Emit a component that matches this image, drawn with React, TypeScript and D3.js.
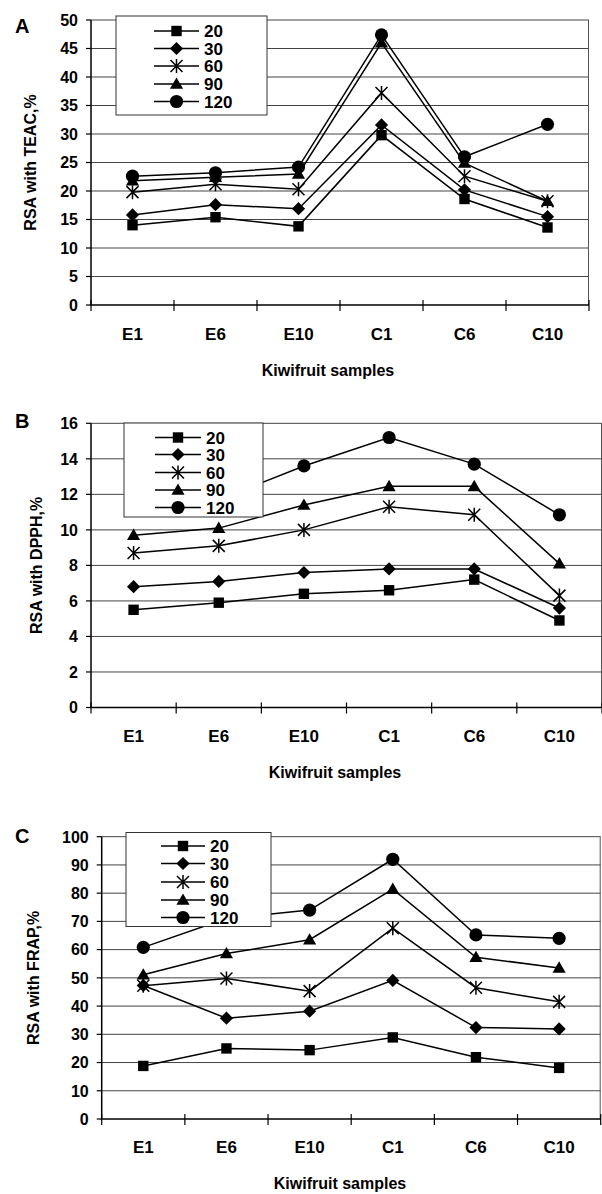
import React from "react";
import * as d3 from "d3";

const categories = ["E1", "E6", "E10", "C1", "C6", "C10"];
const seriesNames = ["20", "30", "60", "90", "120"];

// Panel A: RSA with TEAC
const teac20 = [14.0, 15.4, 13.8, 29.8, 18.6, 13.6];
const teac30 = [15.8, 17.6, 16.9, 31.6, 20.2, 15.5];
const teac60 = [19.8, 21.2, 20.3, 37.2, 22.6, 18.2];
const teac90 = [21.8, 22.4, 23.0, 46.0, 24.9, 18.2];
const teac120 = [22.6, 23.2, 24.2, 47.4, 26.0, 31.7];
const teacTicks = [0, 5, 10, 15, 20, 25, 30, 35, 40, 45, 50];

// Panel B: RSA with DPPH
const dpph20 = [5.5, 5.9, 6.4, 6.6, 7.2, 4.9];
const dpph30 = [6.8, 7.1, 7.6, 7.8, 7.8, 5.6];
const dpph60 = [8.7, 9.1, 10.0, 11.3, 10.85, 6.3];
const dpph90 = [9.7, 10.1, 11.4, 12.45, 12.45, 8.1];
const dpph120 = [11.2, 11.7, 13.6, 15.2, 13.7, 10.85];
const dpphTicks = [0, 2, 4, 6, 8, 10, 12, 14, 16];

// Panel C: RSA with FRAP
const frap20 = [18.8, 25.0, 24.4, 28.9, 21.9, 18.1];
const frap30 = [47.3, 35.7, 38.2, 49.1, 32.4, 31.9];
const frap60 = [47.2, 49.8, 45.3, 67.6, 46.5, 41.5];
const frap90 = [51.1, 58.6, 63.5, 81.4, 57.3, 53.5];
const frap120 = [60.8, 71.0, 74.0, 92.0, 65.2, 64.0];
const frapTicks = [0, 10, 20, 30, 40, 50, 60, 70, 80, 90, 100];

const FONT = "'Liberation Sans', Arial, Helvetica, sans-serif";
const markerTypes = ["square", "diamond", "star", "triangle", "circle"];

function Marker({ type, x, y }: { type: string; x: number; y: number }) {
  if (type === "square") {
    return <rect x={x - 5.2} y={y - 5.2} width={10.4} height={10.4} fill="#000" />;
  }
  if (type === "diamond") {
    const r = 6.6;
    return <path d={`M${x},${y - r}L${x + r},${y}L${x},${y + r}L${x - r},${y}Z`} fill="#000" />;
  }
  if (type === "star") {
    const r = 6;
    return (
      <path
        d={`M${x - r},${y - r}L${x + r},${y + r}M${x - r},${y + r}L${x + r},${y - r}M${x},${y - r - 1}L${x},${y + r + 1}`}
        stroke="#000"
        strokeWidth={1.5}
        fill="none"
      />
    );
  }
  if (type === "triangle") {
    const p = d3.symbol().type(d3.symbolTriangle).size(75)();
    return <path d={p || ""} transform={`translate(${x},${y + 1})`} fill="#000" />;
  }
  return <circle cx={x} cy={y} r={6.6} fill="#000" />;
}

type PanelCfg = {
  letter: string;
  letterY: number;
  title: string;
  series: number[][];
  ticks: number[];
  left: number;
  right: number;
  top: number;
  bottom: number;
  titleX: number;
  xLabelY: number;
  xTitleY: number;
  xTitleX: number;
  legend: { x0: number; x1: number; y0: number; y1: number; lx0: number; lx1: number; tx: number; rows: number[] };
};

function Panel({ cfg }: { cfg: PanelCfg }) {
  const max = cfg.ticks[cfg.ticks.length - 1];
  const y = d3.scaleLinear().domain([0, max]).range([cfg.bottom, cfg.top]);
  const x = d3.scaleBand<string>().domain(categories).range([cfg.left, cfg.right]).padding(0);
  const cx = (c: string) => (x(c) as number) + x.bandwidth() / 2;
  const line = d3
    .line<number>()
    .x((_, i) => cx(categories[i]))
    .y((v) => y(v));
  const boundaries = d3.range(categories.length + 1).map((i) => cfg.left + i * x.bandwidth());
  const L = cfg.legend;
  return (
    <g>
      <text x={15} y={cfg.letterY} fontFamily={FONT} fontWeight="bold" fontSize={20}>
        {cfg.letter}
      </text>
      {cfg.ticks
        .filter((t) => t > 0)
        .map((t) => (
          <line key={t} x1={cfg.left} x2={cfg.right} y1={y(t)} y2={y(t)} stroke="#444" strokeWidth={1} />
        ))}
      <line x1={cfg.right - 0.5} x2={cfg.right - 0.5} y1={cfg.top} y2={cfg.bottom} stroke="#555" strokeWidth={1} />
      <line x1={cfg.left} x2={cfg.left} y1={cfg.top} y2={cfg.bottom} stroke="#000" strokeWidth={1.5} />
      <line x1={cfg.left - 1} x2={cfg.right} y1={cfg.bottom} y2={cfg.bottom} stroke="#000" strokeWidth={1.5} />
      {cfg.ticks.map((t) => (
        <g key={t}>
          <line x1={cfg.left - 5} x2={cfg.left} y1={y(t)} y2={y(t)} stroke="#000" strokeWidth={1.2} />
          <text
            x={cfg.left - 13}
            y={y(t) + 5.8}
            textAnchor="end"
            fontFamily={FONT}
            fontWeight="bold"
            fontSize={16}
          >
            {t}
          </text>
        </g>
      ))}
      {boundaries.map((b, i) => (
        <line key={i} x1={b} x2={b} y1={cfg.bottom - 5} y2={cfg.bottom + 6} stroke="#000" strokeWidth={1.2} />
      ))}
      {categories.map((c) => (
        <text
          key={c}
          x={cx(c)}
          y={cfg.xLabelY}
          textAnchor="middle"
          fontFamily={FONT}
          fontWeight="bold"
          fontSize={17}
        >
          {c}
        </text>
      ))}
      <text
        x={cfg.xTitleX}
        y={cfg.xTitleY}
        textAnchor="middle"
        fontFamily={FONT}
        fontWeight="bold"
        fontSize={16}
      >
        Kiwifruit samples
      </text>
      <text
        transform={`translate(${cfg.titleX},${(cfg.top + cfg.bottom) / 2}) rotate(-90)`}
        textAnchor="middle"
        fontFamily={FONT}
        fontWeight="bold"
        fontSize={16}
      >
        {cfg.title}
      </text>
      {cfg.series.map((s, si) => (
        <g key={si}>
          <path d={line(s) || ""} fill="none" stroke="#000" strokeWidth={1.5} />
          {s.map((v, i) => (
            <Marker key={i} type={markerTypes[si]} x={cx(categories[i])} y={y(v)} />
          ))}
        </g>
      ))}
      <rect x={L.x0} y={L.y0} width={L.x1 - L.x0} height={L.y1 - L.y0} fill="#fff" stroke="#333" strokeWidth={1} />
      {seriesNames.map((n, i) => (
        <g key={n}>
          <line x1={L.lx0} x2={L.lx1} y1={L.rows[i]} y2={L.rows[i]} stroke="#000" strokeWidth={1.5} />
          <Marker type={markerTypes[i]} x={(L.lx0 + L.lx1) / 2} y={L.rows[i]} />
          <text x={L.tx} y={L.rows[i] + 6.2} fontFamily={FONT} fontWeight="bold" fontSize={17}>
            {n}
          </text>
        </g>
      ))}
    </g>
  );
}

const panels: PanelCfg[] = [
  {
    letter: "A",
    letterY: 33,
    title: "RSA with TEAC,%",
    series: [teac20, teac30, teac60, teac90, teac120],
    ticks: teacTicks,
    left: 91,
    right: 589,
    top: 20,
    bottom: 305,
    titleX: 36,
    xLabelY: 340,
    xTitleY: 376,
    xTitleX: 328,
    legend: { x0: 116, x1: 267, y0: 16, y1: 115, lx0: 154, lx1: 199, tx: 204, rows: [31, 48.5, 66, 84, 101.5] },
  },
  {
    letter: "B",
    letterY: 428,
    title: "RSA with DPPH,%",
    series: [dpph20, dpph30, dpph60, dpph90, dpph120],
    ticks: dpphTicks,
    left: 91,
    right: 602,
    top: 423.3,
    bottom: 707.5,
    titleX: 42,
    xLabelY: 742,
    xTitleY: 778,
    xTitleX: 335,
    legend: { x0: 124, x1: 263, y0: 423, y1: 517, lx0: 155, lx1: 201, tx: 206, rows: [437.5, 454.5, 472.5, 490, 507.5] },
  },
  {
    letter: "C",
    letterY: 843,
    title: "RSA with FRAP,%",
    series: [frap20, frap30, frap60, frap90, frap120],
    ticks: frapTicks,
    left: 101.7,
    right: 600.7,
    top: 836.7,
    bottom: 1119,
    titleX: 39,
    xLabelY: 1153,
    xTitleY: 1189,
    xTitleX: 340,
    legend: { x0: 126, x1: 271, y0: 832.5, y1: 926.5, lx0: 161, lx1: 205, tx: 210, rows: [846, 863.5, 882, 900, 917.5] },
  },
];

export default function App() {
  return (
    <svg
      width={602}
      height={1194}
      viewBox="0 0 602 1194"
      style={{ position: "absolute", left: 0, top: 0, background: "#fff" }}
    >
      <rect x={0} y={0} width={602} height={1194} fill="#fff" />
      {panels.map((p) => (
        <Panel key={p.letter} cfg={p} />
      ))}
    </svg>
  );
}
